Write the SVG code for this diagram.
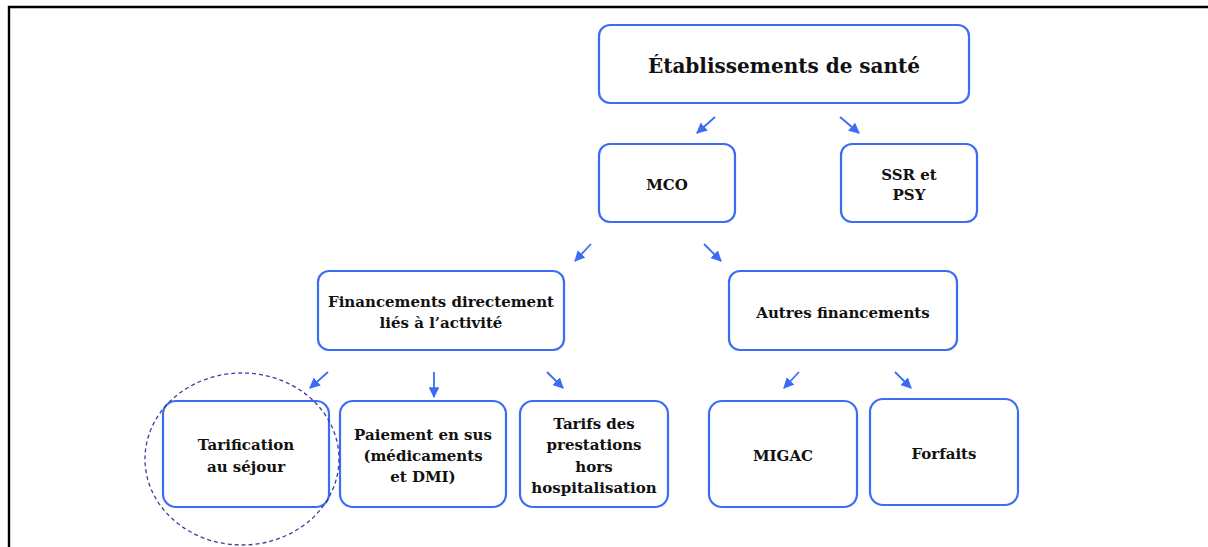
<svg xmlns="http://www.w3.org/2000/svg" width="1208" height="547" viewBox="0 0 1208 547">
<style>
.box{fill:#fff;stroke:#3b6cf6;stroke-width:2.2}
.t{font-family:"DejaVu Serif","Liberation Serif",serif;font-weight:bold;font-size:15px;fill:#111;text-anchor:middle}
.title{font-size:20px}
.c line{stroke:#3b6cf6;stroke-width:1.8;marker-end:url(#ah)}
</style>
<defs>
<marker id="ah" viewBox="0 0 10 10" refX="9" refY="5" markerWidth="6" markerHeight="6" orient="auto" markerUnits="strokeWidth">
<path d="M0,0 L10,5 L0,10 z" fill="#3b6cf6"/>
</marker>
</defs>
<rect width="1208" height="547" fill="#fff"/>
<path d="M9,547 V7 H1208" fill="none" stroke="#000" stroke-width="2.4"/>
<g id="etab"><rect class="box" x="599" y="25" width="370" height="78" rx="11"/><text class="t title" x="784" y="73">Établissements de santé</text></g>
<g id="mco"><rect class="box" x="599" y="144" width="136" height="78" rx="11"/><text class="t" x="667" y="190">MCO</text></g>
<g id="ssr"><rect class="box" x="841" y="144" width="136" height="78" rx="11"/><text class="t" x="909" y="180">SSR et</text><text class="t" x="909" y="200">PSY</text></g>
<g id="fin"><rect class="box" x="318" y="271" width="246" height="79" rx="11"/><text class="t" x="441" y="307">Financements directement</text><text class="t" x="441" y="328">liés à l’activité</text></g>
<g id="autres"><rect class="box" x="729" y="271" width="228" height="79" rx="11"/><text class="t" x="843" y="318">Autres financements</text></g>
<g id="tarif"><rect class="box" x="163" y="401" width="166" height="106" rx="13"/><text class="t" x="246" y="450">Tarification</text><text class="t" x="246" y="472">au séjour</text></g>
<g id="paiement"><rect class="box" x="340" y="401" width="166" height="106" rx="13"/><text class="t" x="423" y="440">Paiement en sus</text><text class="t" x="423" y="461">(médicaments</text><text class="t" x="423" y="482">et DMI)</text></g>
<g id="tarifs"><rect class="box" x="520" y="401" width="148" height="106" rx="13"/><text class="t" x="594" y="429">Tarifs des</text><text class="t" x="594" y="450">prestations</text><text class="t" x="594" y="472">hors</text><text class="t" x="594" y="493">hospitalisation</text></g>
<g id="migac"><rect class="box" x="709" y="401" width="148" height="106" rx="13"/><text class="t" x="783" y="461">MIGAC</text></g>
<g id="forfaits"><rect class="box" x="870" y="399" width="148" height="106" rx="13"/><text class="t" x="944" y="459">Forfaits</text></g>
<g id="highlight"><ellipse cx="242" cy="459" rx="97" ry="86" fill="none" stroke="#3d3d9e" stroke-width="1.3" stroke-dasharray="4,3"/></g>
<g class="c" id="connectors">
<line x1="715" y1="117" x2="697" y2="133"/>
<line x1="840" y1="117" x2="859" y2="133"/>
<line x1="591" y1="244" x2="575" y2="261"/>
<line x1="704" y1="244" x2="721" y2="261"/>
<line x1="328" y1="372" x2="310" y2="388"/>
<line x1="434" y1="372" x2="434" y2="397"/>
<line x1="547" y1="372" x2="563" y2="388"/>
<line x1="799" y1="372" x2="784" y2="388"/>
<line x1="895" y1="372" x2="911" y2="388"/>
</g>
</svg>
